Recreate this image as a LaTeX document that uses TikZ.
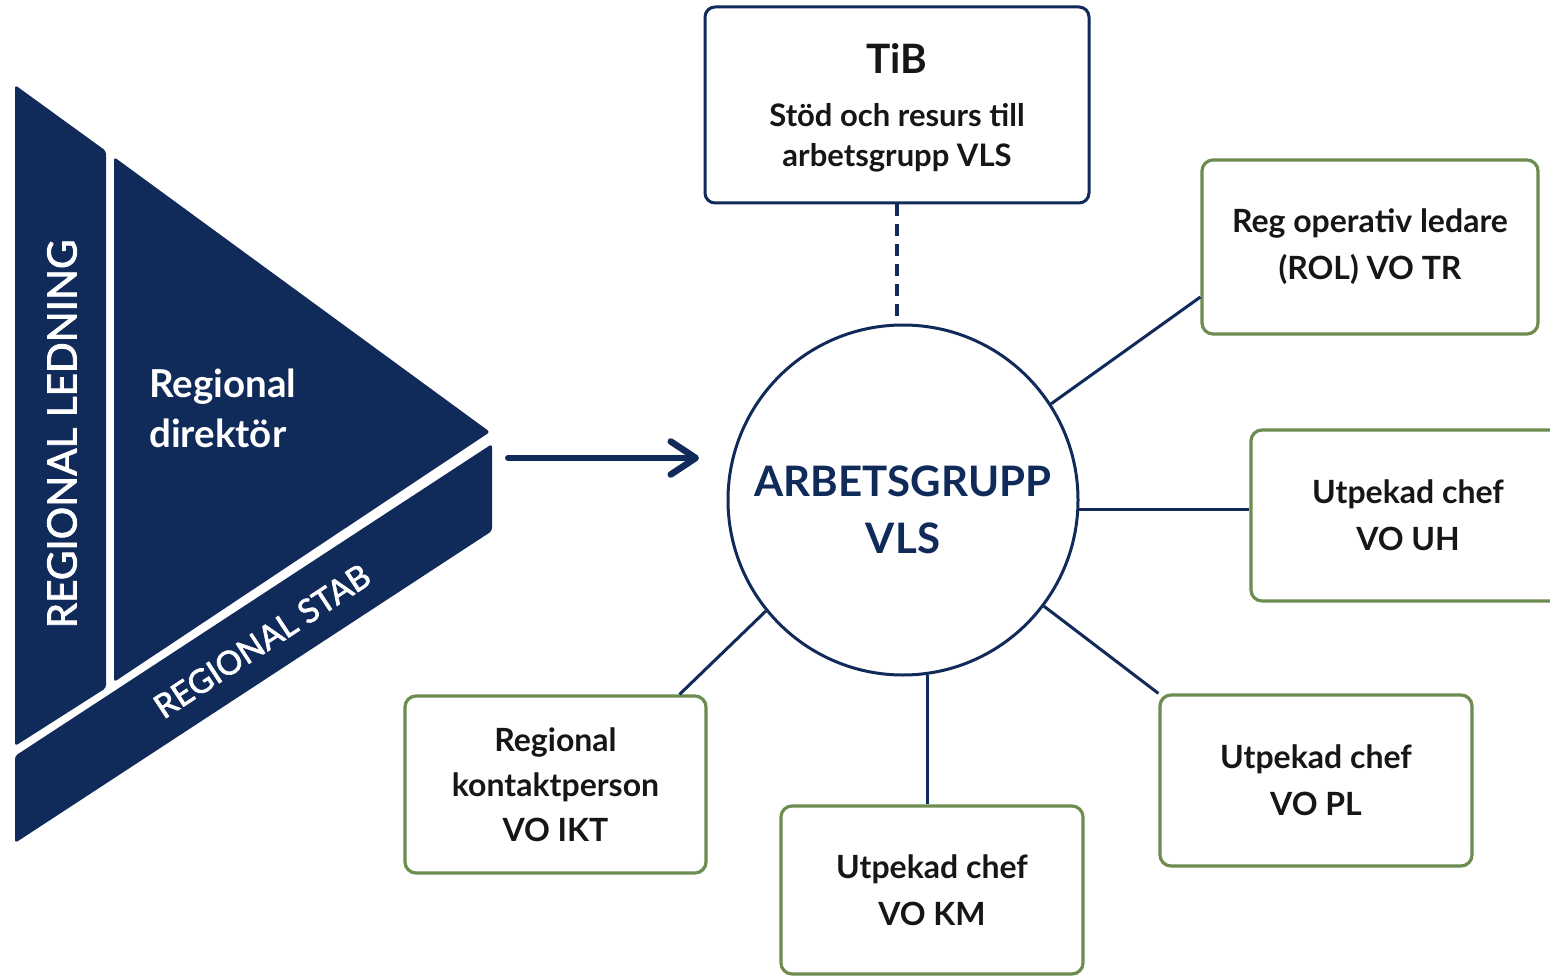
\documentclass[tikz,border=0pt]{standalone}
\usepackage{fontspec}
\setmainfont{Lato}
\newfontface\latomed{Lato}[FakeBold=2]
\usetikzlibrary{arrows.meta,calc}
\definecolor{navy}{RGB}{16,42,90}
\definecolor{leaf}{RGB}{108,140,80}
\definecolor{ink}{RGB}{22,22,22}
\begin{document}
\begin{tikzpicture}[x=1pt,y=-1pt,
  navybox/.style={draw=navy,line width=3pt,rounded corners=10pt,fill=white,
    text=ink,align=center,inner sep=0pt},
  greenbox/.style={draw=leaf,line width=3.2pt,rounded corners=11pt,fill=white,
    text=ink,align=center,inner sep=0pt,
    font=\bfseries\fontsize{32}{47}\selectfont},
  conn/.style={draw=navy,line width=3pt},
  dashline/.style={draw=navy,line width=3.5pt,dash pattern=on 12pt off 8pt},
  arrowline/.style={draw=navy,line width=6pt,line cap=round,
    -{Straight Barb[length=25pt,width=33pt,line width=6.5pt,round]}},
  whitetext/.style={text=white,inner sep=0pt}
]
\useasboundingbox (0,0) rectangle (1550,976);
\fill[white] (0,0) rectangle (1550,976);

% left shape
\fill[navy,rounded corners=3pt] (15,85) -- (106,151) -- (106,688) -- (15,746) -- cycle;
\fill[navy,rounded corners=3pt] (114,157) -- (490,432) -- (114,682) -- cycle;
\fill[navy,rounded corners=3pt] (15,756) -- (492,444) -- (492,531) -- (15,843) -- cycle;

\node[whitetext,rotate=90,font=\latomed\fontsize{40.5}{48}\selectfont] (led) at (62,434) {REGIONAL LEDNING};
\node[whitetext,anchor=west,align=left,font=\bfseries\fontsize{38.5}{50}\selectfont] (dir) at (149,408) {Regional\\direktör};
\node[whitetext,rotate=33.3,font=\latomed\fontsize{33}{38}\selectfont] (stab) at (262,641) {REGIONAL STAB};

% arrow
\coordinate (aS) at (508,458);
\coordinate (aE) at (699,458);
\draw[arrowline] (aS) -- (aE);

% central circle
\node[circle,draw=navy,line width=3pt,fill=white,minimum size=350pt,inner sep=0pt] (circ) at (903,500) {};
\node[text=navy,align=center,font=\bfseries\fontsize{42}{57}\selectfont] (lbl) at (903,510) {ARBETSGRUPP\\VLS};

% boxes
\node[navybox,minimum width=384pt,minimum height=196pt] (tib) at (897,105) {};
\node[text=ink,align=center,inner sep=0pt,font=\bfseries\fontsize{31}{40}\selectfont] (tibtxt) at (897,108)
  {{\fontsize{40.5}{40}\selectfont TiB}\\[13pt]Stöd och resurs till\\arbetsgrupp VLS};
\node[greenbox,minimum width=336pt,minimum height=174pt] (rol) at (1370,247) {Reg operativ ledare\\(ROL) VO TR};
\node[greenbox,minimum width=314pt,minimum height=171pt] (uh) at (1408,515.5) {Utpekad chef\\VO UH};
\node[greenbox,minimum width=312pt,minimum height=171pt] (pl) at (1316,780.5) {Utpekad chef\\VO PL};
\node[greenbox,minimum width=302pt,minimum height=168pt] (km) at (932,890) {Utpekad chef\\VO KM};
\node[greenbox,minimum width=301pt,minimum height=177pt,font=\bfseries\fontsize{32}{45}\selectfont] (ikt) at (555.5,784.5) {Regional\\kontaktperson\\VO IKT};

% connectors
\draw[dashline] (tib.south) -- (tib.south |- circ.north);
\draw[conn] (circ.33) -- ($(rol.west)+(0,50)$);
\draw[conn] (circ.-3.3) -- (circ.-3.3 -| uh.west);
\draw[conn] (circ.-37.6) -- (pl.north west);
\draw[conn] (circ.-82.4) -- (circ.-82.4 |- km.north);
\draw[conn] (circ.-141) -- ($(ikt.north)+(124,0)$);
\end{tikzpicture}
\end{document}
